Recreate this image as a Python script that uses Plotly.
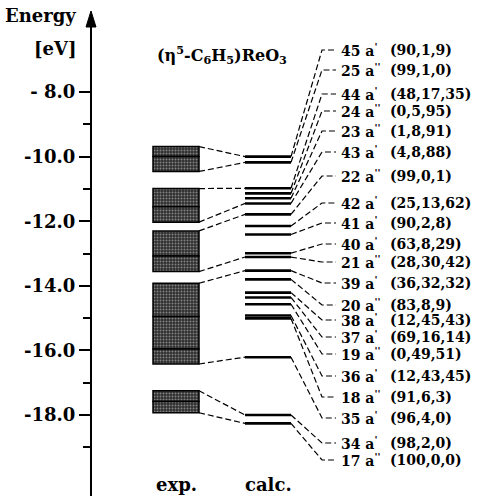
import plotly.graph_objects as go

# ---------------- data ----------------
orbitals = ["45 a'", "25 a''", "44 a'", "24 a''", "23 a''", "43 a'", "22 a''", "42 a'",
            "41 a'", "40 a'", "21 a''", "39 a'", "20 a''", "38 a'", "37 a'", "19 a''",
            "36 a'", "18 a''", "35 a'", "34 a'", "17 a''"]
calc_energy = [-10.00, -10.18, -10.98, -11.14, -11.29, -11.45, -11.79, -12.15,
               -12.41, -12.99, -13.11, -13.53, -13.80, -14.21, -14.36, -14.57,
               -14.92, -15.01, -16.21, -18.00, -18.26]
composition = ["(90,1,9)", "(99,1,0)", "(48,17,35)", "(0,5,95)", "(1,8,91)", "(4,8,88)",
               "(99,0,1)", "(25,13,62)", "(90,2,8)", "(63,8,29)", "(28,30,42)",
               "(36,32,32)", "(83,8,9)", "(12,45,43)", "(69,16,14)", "(0,49,51)",
               "(12,43,45)", "(91,6,3)", "(96,4,0)", "(98,2,0)", "(100,0,0)"]
# experimental bands: sub-segments (top, bottom) in eV
exp_top = [-9.69, -10.00, -10.99, -11.55, -12.30, -13.08, -13.92, -14.95, -15.96, -17.25, -17.58]
exp_bottom = [-10.00, -10.46, -11.55, -12.03, -13.08, -13.56, -14.95, -15.96, -16.42, -17.58, -17.93]
# correlation lines exp -> calc
corr_exp = [-9.69, -10.46, -10.99, -12.03, -12.30, -13.56, -13.92, -16.42, -17.25, -17.93]
corr_calc = [0, 1, 2, 5, 6, 10, 11, 18, 19, 20]
tick_vals = [-8, -10, -12, -14, -16, -18]
tick_text = ["- 8.0", "-10.0", "-12.0", "-14.0", "-16.0", "-18.0"]
minor_vals = [-9, -11, -13, -15, -17, -19]

# ---------------- layout constants ----------------
W, H = 487, 496
PX_PER_EV = 32.3
Y8 = 92  # pixel row of -8 eV
TOP_PX = 14


def e_of_px(py):
    return -8 - (py - Y8) / PX_PER_EV


# label rows (pixel rows of the staggered labels on the right)
label_px = [50, 70, 94, 111, 131, 152, 176, 203, 223, 244, 262, 283, 305, 320, 337,
            354, 376, 397, 418, 443, 460]

EXP_X0, EXP_X1 = 153, 199
CALC_X0, CALC_X1 = 245, 291
LBL_BEND, LBL_END = 322, 336
LBL_TXT, PCT_TXT = 339, 388
AXIS_X = 91

FONT = dict(family="DejaVu Serif", color="black", weight="bold")
DASH = "6px,3px"

fig = go.Figure()

# experimental bands as patterned bars
fig.add_trace(go.Bar(
    x=[(EXP_X0 + EXP_X1) / 2] * len(exp_top),
    base=exp_bottom,
    y=[t - b for t, b in zip(exp_top, exp_bottom)],
    width=EXP_X1 - EXP_X0,
    marker=dict(color="#2e2e2e", line=dict(color="black", width=1.5),
                pattern=dict(shape=".", fgcolor="#d8d8d8", size=3, solidity=0.35)),
    hoverinfo="skip", showlegend=False,
))

# calculated levels
for e in calc_energy:
    fig.add_trace(go.Scatter(x=[CALC_X0, CALC_X1], y=[e, e], mode="lines",
                             line=dict(color="black", width=2.6),
                             hoverinfo="skip", showlegend=False))

# exp -> calc correlation dashes
for ee, ci in zip(corr_exp, corr_calc):
    fig.add_trace(go.Scatter(x=[EXP_X1, CALC_X0], y=[ee, calc_energy[ci]], mode="lines",
                             line=dict(color="black", width=1.2, dash=DASH),
                             hoverinfo="skip", showlegend=False))

# calc -> label dashes and labels
for name, e, comp, py in zip(orbitals, calc_energy, composition, label_px):
    ly = e_of_px(py)
    fig.add_trace(go.Scatter(x=[CALC_X1, LBL_BEND, LBL_END], y=[e, ly, ly], mode="lines",
                             line=dict(color="black", width=1.2, dash=DASH),
                             hoverinfo="skip", showlegend=False))
    num, sym = name.split(" ")
    primes = sym[1:]
    fig.add_annotation(x=LBL_TXT, y=ly, xref="x", yref="y", xanchor="left", yanchor="middle",
                       text=f"{num} a<sup>{primes}</sup>", showarrow=False,
                       font=dict(size=14, **FONT))
    fig.add_annotation(x=PCT_TXT, y=ly, xref="x", yref="y", xanchor="left", yanchor="middle",
                       text=comp, showarrow=False, font=dict(size=14, **FONT))

# headings
def paper_y(py):
    return 1 - py / H

fig.add_annotation(x=78, y=paper_y(16), xref="x", yref="paper", xanchor="right",
                   yanchor="middle", text="Energy", showarrow=False, font=dict(size=18, **FONT))
fig.add_annotation(x=78, y=paper_y(49), xref="x", yref="paper", xanchor="right",
                   yanchor="middle", text="[eV]", showarrow=False, font=dict(size=18, **FONT))
fig.add_annotation(x=222, y=paper_y(55), xref="x", yref="paper", xanchor="center",
                   yanchor="middle",
                   text="(η<sup>5</sup>-C<sub>6</sub>H<sub>5</sub>)ReO<sub>3</sub>",
                   showarrow=False, font=dict(size=16, **FONT))
fig.add_annotation(x=(EXP_X0 + EXP_X1) / 2, y=paper_y(484), xref="x", yref="paper",
                   xanchor="center", yanchor="middle", text="exp.", showarrow=False,
                   font=dict(size=18, **FONT))
fig.add_annotation(x=(CALC_X0 + CALC_X1) / 2, y=paper_y(484), xref="x", yref="paper",
                   xanchor="center", yanchor="middle", text="calc.", showarrow=False,
                   font=dict(size=18, **FONT))

# axis arrowhead
tip = paper_y(11)
base = paper_y(27)
fig.add_shape(type="path", xref="x", yref="paper",
              path=f"M {AXIS_X-5} {base} L {AXIS_X} {tip} L {AXIS_X+5} {base} Z",
              fillcolor="black", line=dict(color="black", width=1))

fig.update_layout(
    width=W, height=H, margin=dict(l=0, r=0, t=0, b=0),
    paper_bgcolor="white", plot_bgcolor="rgba(0,0,0,0)",
    barmode="overlay", showlegend=False,
    xaxis=dict(range=[0, W], visible=False, domain=[0, 1], fixedrange=True),
    yaxis=dict(range=[e_of_px(H), e_of_px(TOP_PX)], domain=[0, (H - TOP_PX) / H],
               anchor="free", position=AXIS_X / W, side="left",
               showline=True, linecolor="black", linewidth=2.2,
               ticks="outside", ticklen=11, tickwidth=2, tickcolor="black",
               tickvals=tick_vals, ticktext=tick_text,
               tickfont=dict(size=18, **FONT),
               minor=dict(tickvals=minor_vals, ticks="outside", ticklen=7,
                          tickwidth=2, tickcolor="black"),
               showgrid=False, zeroline=False, fixedrange=True),
)

fig.write_html("out.html")
